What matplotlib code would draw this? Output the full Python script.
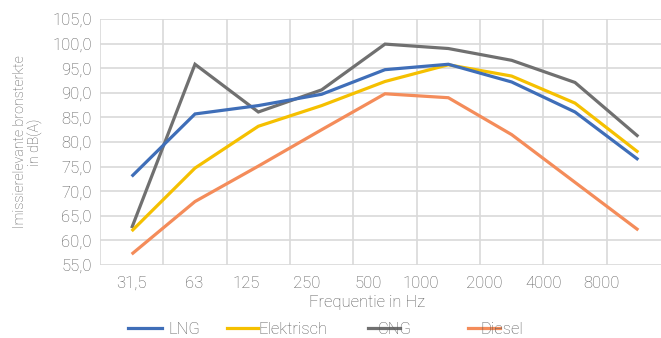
import matplotlib
matplotlib.use("Agg")
import matplotlib.pyplot as plt
from matplotlib.lines import Line2D

categories = ["31,5", "63", "125", "250", "500", "1000", "2000", "4000", "8000"]
lng = [73.0, 85.7, 87.4, 89.7, 94.7, 95.8, 92.2, 86.1, 76.4]
elektrisch = [61.9, 74.7, 83.2, 87.4, 92.3, 95.7, 93.4, 87.9, 77.9]
cng = [62.5, 95.8, 86.1, 90.6, 99.9, 99.0, 96.6, 92.1, 81.1]
diesel = [57.2, 67.9, 75.1, 82.5, 89.8, 89.0, 81.5, 71.8, 62.1]
yticks = [55, 60, 65, 70, 75, 80, 85, 90, 95, 100, 105]

series = [("LNG", lng, "#3F6EB8"), ("Elektrisch", elektrisch, "#F5C000"),
          ("CNG", cng, "#707070"), ("Diesel", diesel, "#F48C5A")]

plt.rcParams['font.family'] = ['Roboto', 'DejaVu Sans']
txt = "#595959"
fs = 12
fw = "light"
W, H = 661, 338
fig = plt.figure(figsize=(W/100, H/100), dpi=100)
ax = fig.add_axes([100/W, (H-265)/H, 570/W, 246/H])

x = list(range(len(categories)))
for name, vals, col in [series[2], series[3], series[1], series[0]]:
    ax.plot(x, vals, color=col, lw=2.3, solid_capstyle='butt', solid_joinstyle='miter', zorder=3)

ax.set_xlim(-0.5, 8.5)
ax.set_ylim(55, 105)
ax.set_yticks(yticks)
ax.set_yticklabels([f"{v:.1f}".replace(".", ",") for v in yticks])
ax.set_xticks([i + 0.5 for i in range(-1, 9)], minor=False)
ax.set_xticklabels([])
ax.grid(True, color="#D9D9D9", lw=1.2, zorder=0)
ax.tick_params(length=0, labelsize=fs, labelcolor=txt, pad=6)
for s in ax.spines.values():
    s.set_visible(False)

# category labels
label_pos = [0.0, 0.98, 1.81, 2.76, 3.74, 4.57, 5.57, 6.5, 7.41]
for p, lab in zip(label_pos, categories):
    ax.text(p, -0.045, lab, transform=ax.get_xaxis_transform(), ha="center", va="top",
            fontsize=fs, color=txt, fontweight=fw)

for t in ax.get_yticklabels():
    t.set_fontweight(fw)

fig.text(367/W, 1 - 302/H, "Frequentie in Hz", ha="center", va="center", fontsize=fs,
         color=txt, fontweight=fw)
fig.text(28/W, 1 - 142/H, "Imissierelevante bronsterkte\nin dB(A)", ha="center", va="center",
         rotation=90, fontsize=10.3, color=txt, fontweight=fw, linespacing=1.15)

# legend
leg = [(128, 162, 168), (227, 258, 258), (368, 400, 378), (468, 500, 480)]
ly = 1 - 328/H
for (x0, x1, tx), (name, vals, col) in zip(leg, series):
    fig.add_artist(Line2D([x0/W, x1/W], [ly, ly], color=col, lw=2.3, transform=fig.transFigure))
    fig.text(tx/W, ly - 0.003, name, ha="left", va="center", fontsize=fs, color=txt, fontweight=fw)

fig.savefig("out.png", dpi=100)
